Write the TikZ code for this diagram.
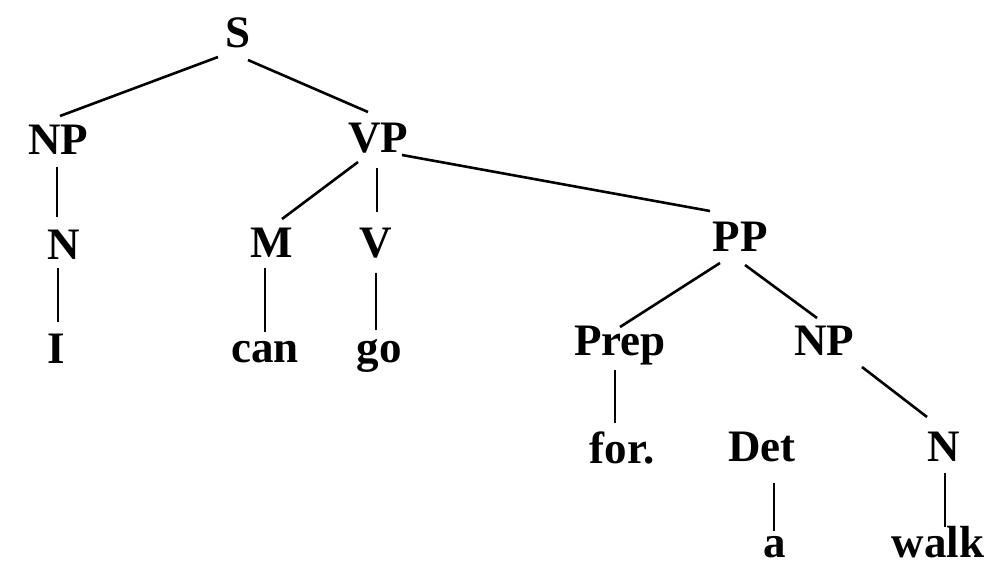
\documentclass[tikz,border=0pt]{standalone}
\usepackage{fontspec}
\setmainfont{Liberation Serif}
\usetikzlibrary{calc}
\tikzset{
  lab/.style={anchor=base, inner sep=0pt, font=\fontsize{45}{50}\selectfont\bfseries},
  edge/.style={line width=2.6pt, black}
}
\begin{document}
\begin{tikzpicture}[x=1pt,y=-1pt]
\useasboundingbox[fill=white] (0,0) rectangle (986,566);
\node[lab] (S) at (238,47) {S};
\node[lab] (NP) at (58,154) {NP};
\node[lab] (VP) at (378,152) {VP};
\node[lab] (N1) at (64,259) {N};
\node[lab] (I) at (56,363) {I};
\node[lab] (M) at (272,257) {M};
\node[lab] (V) at (376,257) {V};
\node[lab] (can) at (265,362) {can};
\node[lab] (go) at (379,362) {go};
\node[lab] (PP) at (740,251) {PP};
\node[lab] (Prep) at (620,355) {Prep};
\node[lab] (NP2) at (824,355) {NP};
\node[lab] (for) at (622,463) {for.};
\node[lab] (Det) at (762,461) {Det};
\node[lab] (N2) at (944,461) {N};
\node[lab] (a) at (775,557) {a};
\node[lab] (walk) at (938,557) {walk};

\draw[edge] ($(S.base)+(-20,10)$) -- ($(NP.base)+(2,-38)$);
\draw[edge] ($(S.base)+(10,13)$) -- ($(VP.base)+(-10,-40)$);
\draw[edge] ($(VP.base)+(24,3)$) -- ($(PP.base)+(-30,-40)$);
\draw[edge] ($(VP.base)+(-20,10)$) -- ($(M.base)+(10,-38)$);
\draw[edge] ($(VP.base)+(-1,16)$) -- ($(V.base)+(1,-45)$);
\draw[edge] ($(NP.base)+(-1,13)$) -- ($(N1.base)+(-7,-42)$);
\draw[edge] ($(N1.base)+(-6,9)$) -- ($(I.base)+(2,-41)$);
\draw[edge] ($(M.base)+(-7,11)$) -- ($(can.base)+(0,-30)$);
\draw[edge] ($(V.base)+(0,16)$) -- ($(go.base)+(-3,-32)$);
\draw[edge] ($(PP.base)+(-20,12)$) -- ($(Prep.base)+(0,-28)$);
\draw[edge] ($(PP.base)+(5,14)$) -- ($(NP2.base)+(-7,-37)$);
\draw[edge] ($(Prep.base)+(-5,15)$) -- ($(for.base)+(-7,-40)$);
\draw[edge] ($(NP2.base)+(38,12)$) -- ($(N2.base)+(-17,-44)$);
\draw[edge] ($(Det.base)+(12,22)$) -- ($(a.base)+(-1,-26)$);
\draw[edge] ($(N2.base)+(1,12)$) -- ($(walk.base)+(7,-30)$);
\end{tikzpicture}
\end{document}
